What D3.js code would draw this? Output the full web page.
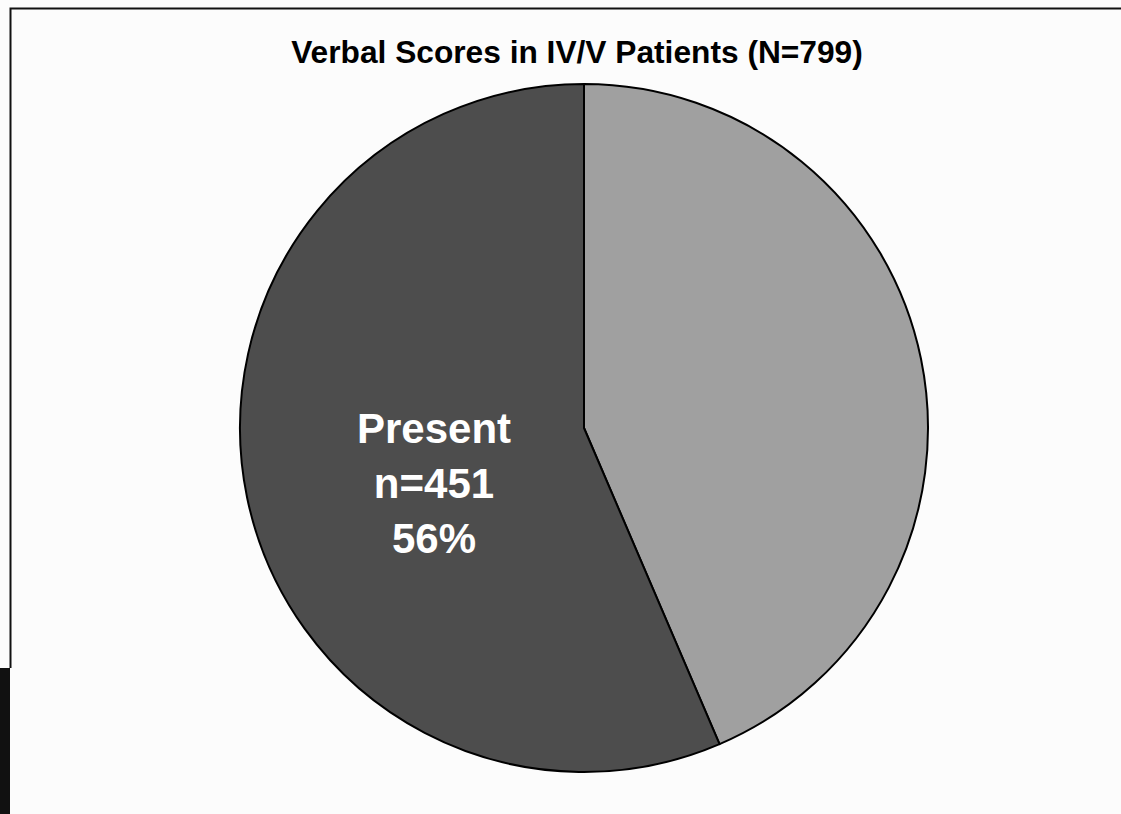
<!DOCTYPE html>
<html>
<head>
<meta charset="utf-8">
<script src="https://cdn.jsdelivr.net/npm/d3@7"></script>
<style>
  html, body { margin: 0; padding: 0; background: #fcfcfc; }
  svg { display: block; }
</style>
</head>
<body>
<script>
// chart data
var categories = ["Absent", "Present"];
var counts = [348, 451];
var percents = [44, 56];
var sliceColors = ["#a0a0a0", "#4d4d4d"];
var title = "Verbal Scores in IV/V Patients (N=799)";

const width = 1121;
const height = 814;

var svg = d3.select("body").append("svg")
    .attr("width", width)
    .attr("height", height);

svg.append("rect")
    .attr("width", width).attr("height", height)
    .attr("fill", "#fcfcfc");

// frame lines (top + left) and the dark block at bottom left
svg.append("path")
    .attr("d", "M10.5,668 V8.5 H1121")
    .attr("fill", "none")
    .attr("stroke", "#111")
    .attr("stroke-width", 2);
svg.append("rect")
    .attr("x", 0).attr("y", 668)
    .attr("width", 10).attr("height", height - 668)
    .attr("fill", "#111");

// title
svg.append("text")
    .attr("x", 577)
    .attr("y", 63)
    .attr("text-anchor", "middle")
    .style("font-family", "Liberation Sans, Arial, sans-serif")
    .style("font-weight", "bold")
    .style("font-size", "31.7px")
    .text(title);

// pie
var cx = 584, cy = 428, radius = 344;
var group = svg.append("g").attr("transform", "translate(" + cx + "," + cy + ")");

var pie = d3.pie().sort(null).value(function(d) { return d; });
var arc = d3.arc().innerRadius(0).outerRadius(radius);

group.selectAll("path")
    .data(pie(counts))
    .enter()
    .append("path")
    .attr("d", arc)
    .attr("fill", function(d, i) { return sliceColors[i]; })
    .attr("stroke", "#000")
    .attr("stroke-width", 2)
    .attr("stroke-linejoin", "round");

// label on the "Present" slice
var lines = [categories[1], "n=" + counts[1], percents[1] + "%"];
svg.append("text")
    .attr("text-anchor", "middle")
    .style("font-family", "Liberation Sans, Arial, sans-serif")
    .style("font-weight", "bold")
    .style("font-size", "42px")
    .attr("fill", "#fff")
    .selectAll("tspan")
    .data(lines)
    .enter()
    .append("tspan")
    .attr("x", 434)
    .attr("y", function(d, i) { return 443 + i * 55; })
    .text(function(d) { return d; });
</script>
</body>
</html>
